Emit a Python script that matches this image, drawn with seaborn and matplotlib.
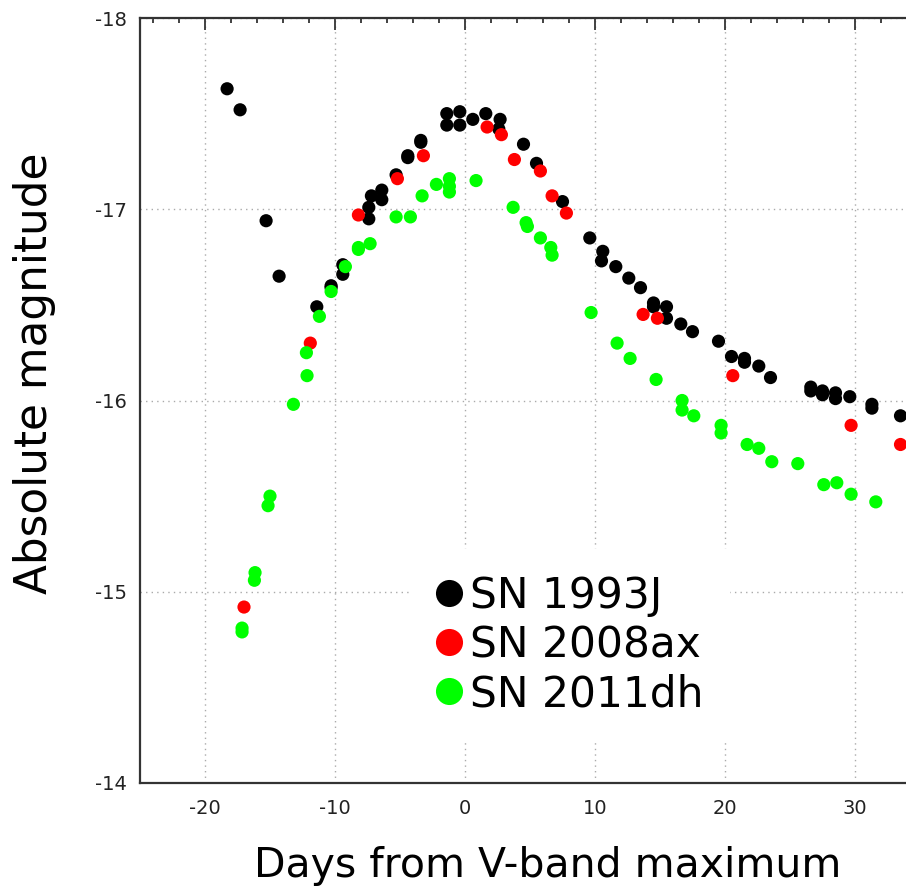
import pandas as pd
import matplotlib
matplotlib.use("Agg")
import matplotlib.pyplot as plt
import seaborn as sns
from matplotlib.lines import Line2D
from matplotlib.ticker import MultipleLocator

# Light curves: days from V-band maximum, absolute magnitude
days_1993j = [-18.3, -17.3, -15.3, -14.3, -11.4, -10.3, -10.3, -9.4, -9.4, -7.4,
              -7.4, -7.2, -6.4, -6.4, -5.3, -4.4, -4.4, -3.4, -3.4, -1.4,
              -1.4, -0.4, -0.4, 0.6, 1.6, 2.7, 2.6, 4.5, 5.5, 7.5,
              9.6, 10.6, 10.5, 11.6, 12.6, 13.5, 14.5, 14.5, 15.5, 15.5,
              16.6, 17.5, 19.5, 20.5, 21.5, 21.5, 22.6, 23.5, 26.6, 26.6,
              27.5, 27.5, 28.5, 28.5, 29.6, 31.3, 31.3, 33.5]
mag_1993j = [-17.63, -17.52, -16.94, -16.65, -16.49, -16.60, -16.59, -16.71, -16.66, -17.01,
             -16.95, -17.07, -17.10, -17.05, -17.18, -17.28, -17.27, -17.36, -17.35, -17.50,
             -17.44, -17.51, -17.44, -17.47, -17.50, -17.47, -17.42, -17.34, -17.24, -17.04,
             -16.85, -16.78, -16.73, -16.70, -16.64, -16.59, -16.51, -16.49, -16.49, -16.43,
             -16.40, -16.36, -16.31, -16.23, -16.22, -16.20, -16.18, -16.12, -16.07, -16.05,
             -16.05, -16.03, -16.04, -16.01, -16.02, -15.96, -15.98, -15.92]

days_2008ax = [-17.0, -11.9, -8.2, -5.2, -3.2, 1.7, 2.8, 3.8, 5.8, 6.7,
               7.8, 13.7, 14.8, 20.6, 29.7, 33.5]
mag_2008ax = [-14.92, -16.30, -16.97, -17.16, -17.28, -17.43, -17.39, -17.26, -17.20, -17.07,
              -16.98, -16.45, -16.43, -16.13, -15.87, -15.77]

days_2011dh = [-17.15, -17.15, -16.2, -16.15, -15.15, -15.0, -13.2, -12.15, -12.2, -11.2,
               -10.3, -9.2, -8.2, -8.2, -7.3, -5.3, -4.2, -3.3, -2.2, -1.2,
               -1.2, -1.2, 0.85, 3.7, 4.7, 4.8, 5.8, 6.6, 6.7, 9.7,
               11.7, 12.7, 14.7, 16.7, 16.7, 17.6, 19.7, 19.7, 21.7, 22.6,
               23.6, 25.6, 27.6, 28.6, 29.7, 31.6]
mag_2011dh = [-14.81, -14.79, -15.06, -15.10, -15.45, -15.50, -15.98, -16.13, -16.25, -16.44,
              -16.57, -16.70, -16.80, -16.79, -16.82, -16.96, -16.96, -17.07, -17.13, -17.16,
              -17.12, -17.09, -17.15, -17.01, -16.93, -16.91, -16.85, -16.80, -16.76, -16.46,
              -16.30, -16.22, -16.11, -16.00, -15.95, -15.92, -15.87, -15.83, -15.77, -15.75,
              -15.68, -15.67, -15.56, -15.57, -15.51, -15.47]

names = ["SN 1993J", "SN 2008ax", "SN 2011dh"]
colors = ["#000000", "#ff0000", "#00ff00"]


def build_frame():
    parts = []
    for name, d, m in zip(names, [days_1993j, days_2008ax, days_2011dh],
                          [mag_1993j, mag_2008ax, mag_2011dh]):
        parts.append(pd.DataFrame({"day": d, "mag": m, "sn": name}))
    return pd.concat(parts, ignore_index=True)


def plot(df):
    sns.set_theme(style="white")
    plt.rcParams["font.family"] = ["DejaVu Sans"]
    plt.rcParams["axes.unicode_minus"] = False
    plt.rcParams["text.color"] = "black"

    fig = plt.figure(figsize=(9.06, 8.89), dpi=100)
    # axes run past the right edge of the figure, like the cropped original
    ax = fig.add_axes([140 / 906, 106 / 889, 780 / 906, 765 / 889])

    sns.scatterplot(data=df, x="day", y="mag", hue="sn", palette=colors,
                    s=90, linewidth=0, alpha=1, legend=False, ax=ax, zorder=3)

    ax.set_xlim(-25, 35)
    ax.set_ylim(-14, -18)
    ax.xaxis.set_major_locator(MultipleLocator(10))
    ax.xaxis.set_minor_locator(MultipleLocator(2))
    ax.yaxis.set_major_locator(MultipleLocator(1))
    ax.yaxis.set_minor_locator(MultipleLocator(0.2))

    ax.grid(True, which="major", color="#aaaaaa", linestyle=(0, (1, 3)), linewidth=1)
    for sp in ax.spines.values():
        sp.set_color("#333333")
        sp.set_linewidth(1.6)

    ax.tick_params(which="both", direction="in", top=True, right=True,
                   color="#333333", width=1.3)
    ax.tick_params(which="major", length=8.5)
    ax.tick_params(which="minor", length=3.8)
    ax.tick_params(axis="x", pad=11.5, labelsize=14, labelcolor="#222222")
    ax.tick_params(axis="y", pad=9.5, labelsize=14, labelcolor="#222222")
    ax.set_xlabel("")
    ax.set_ylabel("")

    fig.text(35 / 906, (889 - 373) / 889, "Absolute magnitude", rotation=90,
             ha="center", va="center", fontsize=31.5, color="black")
    fig.text(548 / 906, 12 / 889, "Days from V-band maximum",
             ha="center", va="baseline", fontsize=29.5, color="black")

    handles = [Line2D([], [], marker="o", linestyle="none", markersize=19.5,
                      markerfacecolor=c, markeredgewidth=0) for c in colors]
    leg = ax.legend(handles, names, loc="upper left",
                    bbox_to_anchor=(0.32, 0.333), fontsize=30.5,
                    handlelength=0.6, handletextpad=0.2, labelspacing=0.17,
                    borderpad=0.6, frameon=True, fancybox=False,
                    facecolor="white", edgecolor="white", framealpha=1)
    for t in leg.get_texts():
        t.set_color("black")
    leg.set_zorder(4)

    fig.savefig("out.png", dpi=100)


if __name__ == "__main__":
    plot(build_frame())
